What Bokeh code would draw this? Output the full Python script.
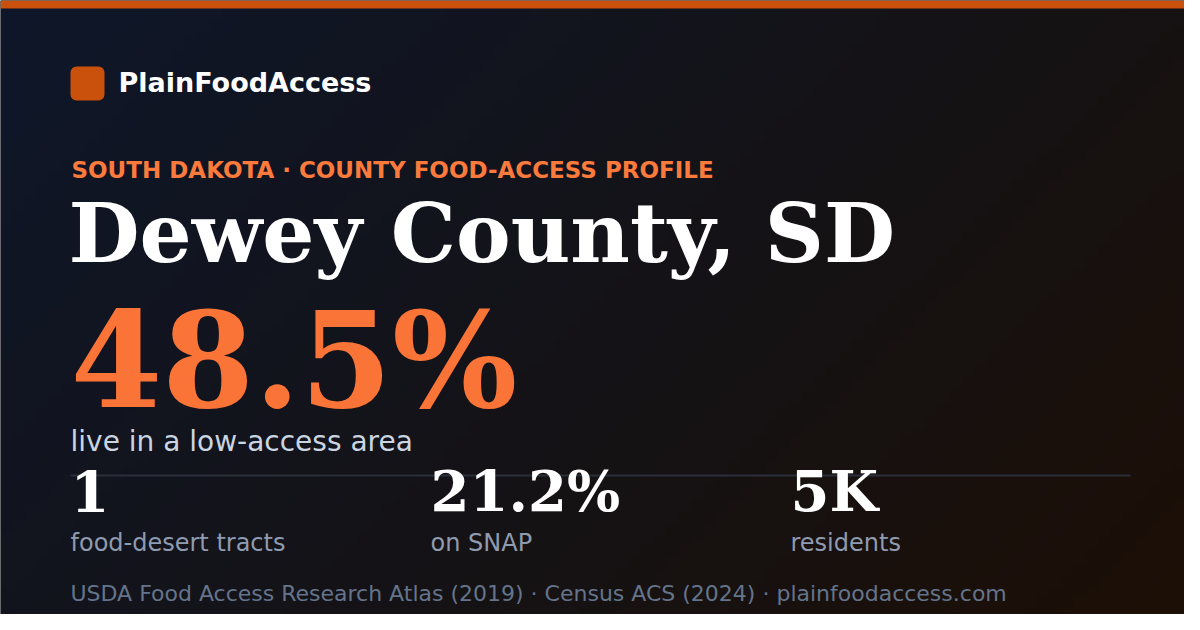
import numpy as np
from bokeh.plotting import figure
from bokeh.models import Range1d, BoxAnnotation
from bokeh.core.properties import value
from bokeh.embed import file_html
from bokeh.resources import INLINE

# ---- content ----
brand = "PlainFoodAccess"
kicker = "SOUTH DAKOTA · COUNTY FOOD-ACCESS PROFILE"
county = "Dewey County, SD"
headline_value = "48.5%"
headline_label = "live in a low-access area"
stat_values = ["1", "21.2%", "5K"]
stat_labels = ["food-desert tracts", "on SNAP", "residents"]
stat_x = [70, 430, 790]
footer = "USDA Food Access Research Atlas (2019) · Census ACS (2024) · plainfoodaccess.com"

W, H = 1184, 614
p = figure(width=W, height=H, output_backend="svg", toolbar_location=None,
           x_range=Range1d(0, W), y_range=Range1d(H, 0),
           min_border=0, outline_line_color=None)
p.axis.visible = False
p.grid.visible = False
p.background_fill_color = "#131419"
p.border_fill_color = "#131419"

# background diagonal gradient (styling only)
n = 96
gx, gy = np.meshgrid(np.linspace(0, 1, n), np.linspace(0, 1, n))
t = (gx * 1200 + gy * 630) / (1200 + 630)
c0 = np.array([15, 23, 42], float)
c1 = np.array([20, 19, 24], float)
c2 = np.array([28, 15, 6], float)
img = np.zeros((n, n, 4), dtype=np.uint8)
for k in range(3):
    a = np.where(t < 0.5, c0[k] + (c1[k] - c0[k]) * (t / 0.5),
                 c1[k] + (c2[k] - c1[k]) * ((t - 0.5) / 0.5))
    img[:, :, k] = a.astype(np.uint8)
img[:, :, 3] = 255
rgba = img.view(dtype=np.uint32).reshape((n, n))
p.image_rgba(image=[rgba], x=0, y=0, dw=W, dh=H)

# top bar
p.add_layout(BoxAnnotation(left=0, right=W, top=0, bottom=8,
                           fill_color="#c9510c", fill_alpha=1, line_color=None))
# logo square
p.add_layout(BoxAnnotation(left=70, right=104, top=66, bottom=100,
                           fill_color="#c9510c", fill_alpha=1, line_color=None,
                           border_radius=6))

sans = value("DejaVu Sans")
serif = value("DejaVu Serif")
K = 0.38  # baseline compensation factor


def yb(baseline, fs):
    return baseline - K * fs


p.text(x=[118], y=[yb(92, 27)], text=[brand], text_font=sans, text_font_style="bold",
       text_font_size="27px", text_color="#ffffff", text_baseline="alphabetic")
p.text(x=[71], y=[yb(178, 23)], text=[kicker], text_font=sans, text_font_style="bold",
       text_font_size="23px", text_color="#fb7a3c", text_baseline="alphabetic")
p.text(x=[68], y=[yb(264, 82)], text=[county], text_font=serif, text_font_style="bold",
       text_font_size="82px", text_color="#ffffff", text_baseline="alphabetic")
p.text(x=[70], y=[yb(410, 132)], text=[headline_value], text_font=serif, text_font_style="bold",
       text_font_size="132px", text_color="#fb7437", text_baseline="alphabetic")
p.text(x=[70], y=[yb(452, 28)], text=[headline_label], text_font=sans,
       text_font_size="28px", text_color="#cbd5e1", text_baseline="alphabetic")

# divider
p.segment(x0=[70], y0=[475], x1=[1130], y1=[475], line_color="#2a2f3a", line_width=2)

p.text(x=stat_x, y=[yb(512, 56)] * 3, text=stat_values, text_font=serif, text_font_style="bold",
       text_font_size="56px", text_color="#ffffff", text_baseline="alphabetic")
p.text(x=stat_x, y=[yb(552, 24)] * 3, text=stat_labels, text_font=sans,
       text_font_size="24px", text_color="#8f9bb0", text_baseline="alphabetic")

p.text(x=[70], y=[yb(601, 22)], text=[footer], text_font=sans,
       text_font_size="22px", text_color="#64748b", text_baseline="alphabetic")

open("out.html", "w").write(file_html(p, INLINE))
